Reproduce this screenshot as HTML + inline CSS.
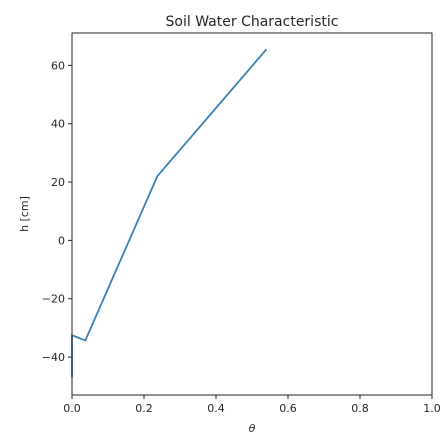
<!DOCTYPE html>
<html><head><meta charset="utf-8"><style>
body{margin:0;background:#fff;}
svg text{font-family:"DejaVu Sans","Liberation Sans",sans-serif;fill:#262626;}
</style></head><body>
<svg width="443" height="437" id="c">
<text x="252" y="26" font-size="14" text-anchor="middle">Soil Water Characteristic</text>
<text x="252" y="432" font-size="11" text-anchor="middle" font-style="italic">θ</text>
<text transform="translate(28,214) rotate(-90)" font-size="11" text-anchor="middle">h [cm]</text>
<g id="ticks"></g>
<path id="line" fill="none" stroke="#3a80b2" stroke-width="1.8"/>
<rect x="72" y="33" width="360" height="362" fill="none" stroke="#222" stroke-width="1"/>
</svg>
<script>
const thetaValues=[0,0,0.037,0.237,0.54];
const hValues=[-47,-32.5,-34.3,22,65.5];
const xTicks=[0,0.2,0.4,0.6,0.8,1.0];
const xTickLabels=["0.0","0.2","0.4","0.6","0.8","1.0"];
const yTicks=[-40,-20,0,20,40,60];
const yTickLabels=["−40","−20","0","20","40","60"];
const X0=72,X1=432,Y0=395,Y1=33,xmin=0,xmax=1,ymin=-53,ymax=71.1;
const sx=v=>X0+(v-xmin)/(xmax-xmin)*(X1-X0);
const sy=v=>Y0-(v-ymin)/(ymax-ymin)*(Y0-Y1);
const NS="http://www.w3.org/2000/svg",g=document.getElementById('ticks');
function mk(t,a){const e=document.createElementNS(NS,t);for(const k in a)e.setAttribute(k,a[k]);g.appendChild(e);return e;}
xTicks.forEach((v,i)=>{const x=sx(v);
const l=mk('line',{x1:x,x2:x,y1:Y0,y2:Y0+4,stroke:'#222'});


const t=mk('text',{x:x,y:Y0+17,'font-size':11,'text-anchor':'middle'});t.textContent=xTickLabels[i];

});
yTicks.forEach((v,i)=>{const y=sy(v);
const l=mk('line',{x1:X0-4,x2:X0,y1:y,y2:y,stroke:'#222'});


const t=mk('text',{x:X0-7,y:y+4,'font-size':11,'text-anchor':'end'});t.textContent=yTickLabels[i];

});
document.getElementById('line').setAttribute('d',thetaValues.map((v,i)=>(i?'L':'M')+sx(v)+','+sy(hValues[i])).join(''));
</script>
</body></html>
